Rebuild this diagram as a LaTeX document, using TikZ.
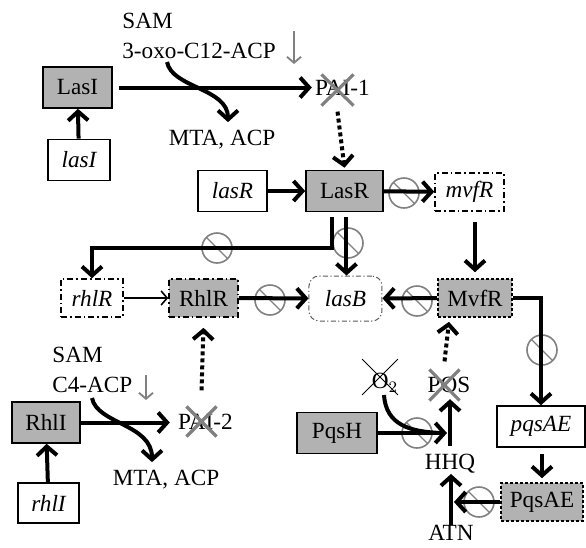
\documentclass[tikz,border=0pt]{standalone}
\usepackage{fontspec}
\setmainfont{Liberation Serif}
\usetikzlibrary{arrows.meta,positioning,shapes.misc}

\tikzset{
  every node/.style={inner sep=0pt},
  gene/.style={draw, line width=0.8pt, minimum height=20.5pt, font=\itshape},
  prot/.style={gene, fill=gray!60, font=\upshape},
  dashgene/.style={gene, minimum height=19pt, dash pattern=on 3pt off 1.5pt on 0.8pt off 1.5pt},
  dashprot/.style={prot, minimum height=19pt, dash pattern=on 3pt off 1.5pt on 0.8pt off 1.5pt},
  fineprot/.style={prot, minimum height=19pt, dash pattern=on 1.5pt off 1pt},
  target/.style={draw=gray!70!black, line width=0.5pt, rounded corners=5pt, minimum height=22.5pt,
    dash pattern=on 2.5pt off 1.2pt on 0.6pt off 1.2pt, font=\itshape},
  arr/.style={line width=2pt, -{Straight Barb[length=4.5pt,width=10pt]}},
  dotarr/.style={arr, dash pattern=on 2pt off 1.5pt},
  thinarr/.style={line width=0.8pt, -{Straight Barb[length=3pt,width=7pt]}},
  grayarr/.style={gray, line width=0.9pt, -{Straight Barb[length=3pt,width=7pt]}},
  noentry/.style={circle, draw=gray, line width=0.8pt, minimum size=15pt,
    path picture={\draw[gray, line width=0.7pt] (path picture bounding box.north west) -- (path picture bounding box.south east);}},
  knockout/.style={cross out, draw=gray, line width=1.6pt}
}

\begin{document}
\begin{tikzpicture}[x=0.5pt,y=-0.5pt]
\fontsize{11.6}{15}\selectfont
\useasboundingbox (0,0) rectangle (586,548);

% las system
\node[prot, minimum width=34.5pt] (LasI) at (77.5,87.5) {LasI};
\node[gene, minimum width=31pt] (lasI) at (79,160) {lasI};
\node[gene, minimum width=34.5pt] (lasR) at (232.5,191) {lasR};
\node[prot, minimum width=38.5pt] (LasR) at (344.5,191) {LasR};
\node (PAI1) at (342.5,88) {PAI-1};
\node[knockout, minimum width=14.5pt, minimum height=14pt] (PAI1x) at (337.5,90) {};
\node[anchor=north west, align=left] (sub1) at (122,13) {SAM\\3-oxo-C12-ACP};
\node (mta1) at (222,140) {MTA, ACP};
\coordinate (sub1out) at (167,62);
\coordinate (g1top) at (294,31);
\coordinate (g1bot) at (294,64);

% rhl system
\node[dashgene, minimum width=31pt] (rhlR) at (92,298) {rhlR};
\node[dashprot, minimum width=34.5pt] (RhlR) at (203.5,298) {RhlR};
\node[prot, minimum width=34pt] (RhlI) at (46,422.5) {RhlI};
\node[gene, minimum width=30.5pt, minimum height=20pt] (rhlI) at (48.5,503) {rhlI};
\node (PAI2) at (205.5,422) {PAI-2};
\node[knockout, minimum size=13.5pt] (PAI2x) at (201.5,421.5) {};
\node[anchor=north west, align=left] (sub2) at (52,347) {SAM\\C4-ACP};
\node (mta2) at (166,480) {MTA, ACP};
\coordinate (sub2out) at (92,398);
\coordinate (g2top) at (146,375);
\coordinate (g2bot) at (146,400);

% target and pqs system
\node[target, minimum width=36.5pt] (lasB) at (345.5,298.5) {lasB};
\node[dashgene, minimum width=34.5pt] (mvfR) at (469.5,192) {mvfR};
\node[fineprot, minimum width=37pt] (MvfR) at (475,298) {MvfR};
\node[gene, minimum width=44pt] (pqsAE) at (541,426.5) {pqsAE};
\node[fineprot, minimum width=41pt] (PqsAE) at (542,502) {PqsAE};
\node[prot, minimum width=40pt] (PqsH) at (337,433) {PqsH};
\node (POS) at (449,385) {POS};
\node[knockout, minimum width=13.5pt, minimum height=14pt] (POSx) at (444.5,385) {};
\node (HHQ) at (450,464) {HHQ};
\node (ATN) at (451,533) {ATN};
\node (O2) at (385,383) {O$_2$};
\node[cross out, draw, line width=0.4pt, minimum size=17.5pt] (O2x) at (380,377) {};
\coordinate (O2out) at (384,395);

% no-entry marks
\node[noentry] (ne1) at (404,193) {};
\node[noentry] (ne2) at (217,248) {};
\node[noentry] (ne3) at (348,243) {};
\node[noentry] (ne4) at (270,300) {};
\node[noentry] (ne5) at (417,301) {};
\node[noentry] (ne6) at (542,350) {};
\node[noentry] (ne7) at (417,433) {};
\node[noentry] (ne8) at (479,502) {};

% connectors
\draw[arr] (lasI) -- (LasI);
\draw[arr, shorten <=3pt, shorten >=1.5pt] (LasI.east) -- (LasI.east -| PAI1.west);
\draw[arr] (sub1out) .. controls (172,88) and (228,88) .. ([xshift=3pt,yshift=4pt]mta1.north);
\draw[grayarr] (g1top) -- (g1bot);
\draw[dotarr] ([yshift=-3pt]PAI1x.south) -- ([yshift=1pt]LasR.north);
\draw[arr] (lasR) -- (LasR);
\draw[arr] (LasR) -- (mvfR);
\draw[arr, shorten <=5pt, shorten >=3pt] (mvfR.south -| MvfR.north) -- (MvfR.north);
\draw[arr, shorten <=2.5pt] ([xshift=-6.25pt]LasR.south) -- ++(0,36) -| (rhlR.north);
\draw[arr, shorten <=2.5pt] ([xshift=1pt]LasR.south) -- ([xshift=0.5pt]lasB.north);
\draw[thinarr] (rhlR) -- (RhlR);
\draw[arr] (RhlR) -- (lasB);
\draw[arr] (MvfR) -- (lasB);
\draw[arr] (MvfR.east) -| (pqsAE.north);
\draw[arr, shorten <=3pt, shorten >=2pt] (pqsAE.south -| PqsAE.north) -- (PqsAE.north);
\draw[arr] (PqsAE.west) -- ([xshift=1.5pt]PqsAE.west -| ATN.north);
\draw[arr] (ATN.north) -- (ATN.north |- HHQ.south);
\draw[arr, shorten >=3pt] ([yshift=4pt]HHQ.north) -- (HHQ.north |- POS.south);
\draw[arr] (PqsH.east) -- ([xshift=-1.5pt]PqsH.east -| HHQ.north);
\draw[line width=2pt] (O2out) .. controls (386,425) and (410,432) .. ([xshift=-4pt]PqsH.east -| HHQ.north);
\draw[dotarr] ([yshift=4pt]POSx.north) -- ([yshift=-2pt]MvfR.south -| POS.north);
\draw[arr] (rhlI) -- (RhlI);
\draw[arr, shorten >=4pt] (RhlI.east) -- (RhlI.east -| PAI2.west);
\draw[arr] (sub2out) .. controls (97,424) and (152,424) .. ([xshift=-7pt,yshift=4pt]mta2.north);
\draw[grayarr] (g2top) -- (g2bot);
\draw[dotarr] ([yshift=8pt]PAI2x.north) -- ([yshift=-5pt]RhlR.south);
\end{tikzpicture}
\end{document}
